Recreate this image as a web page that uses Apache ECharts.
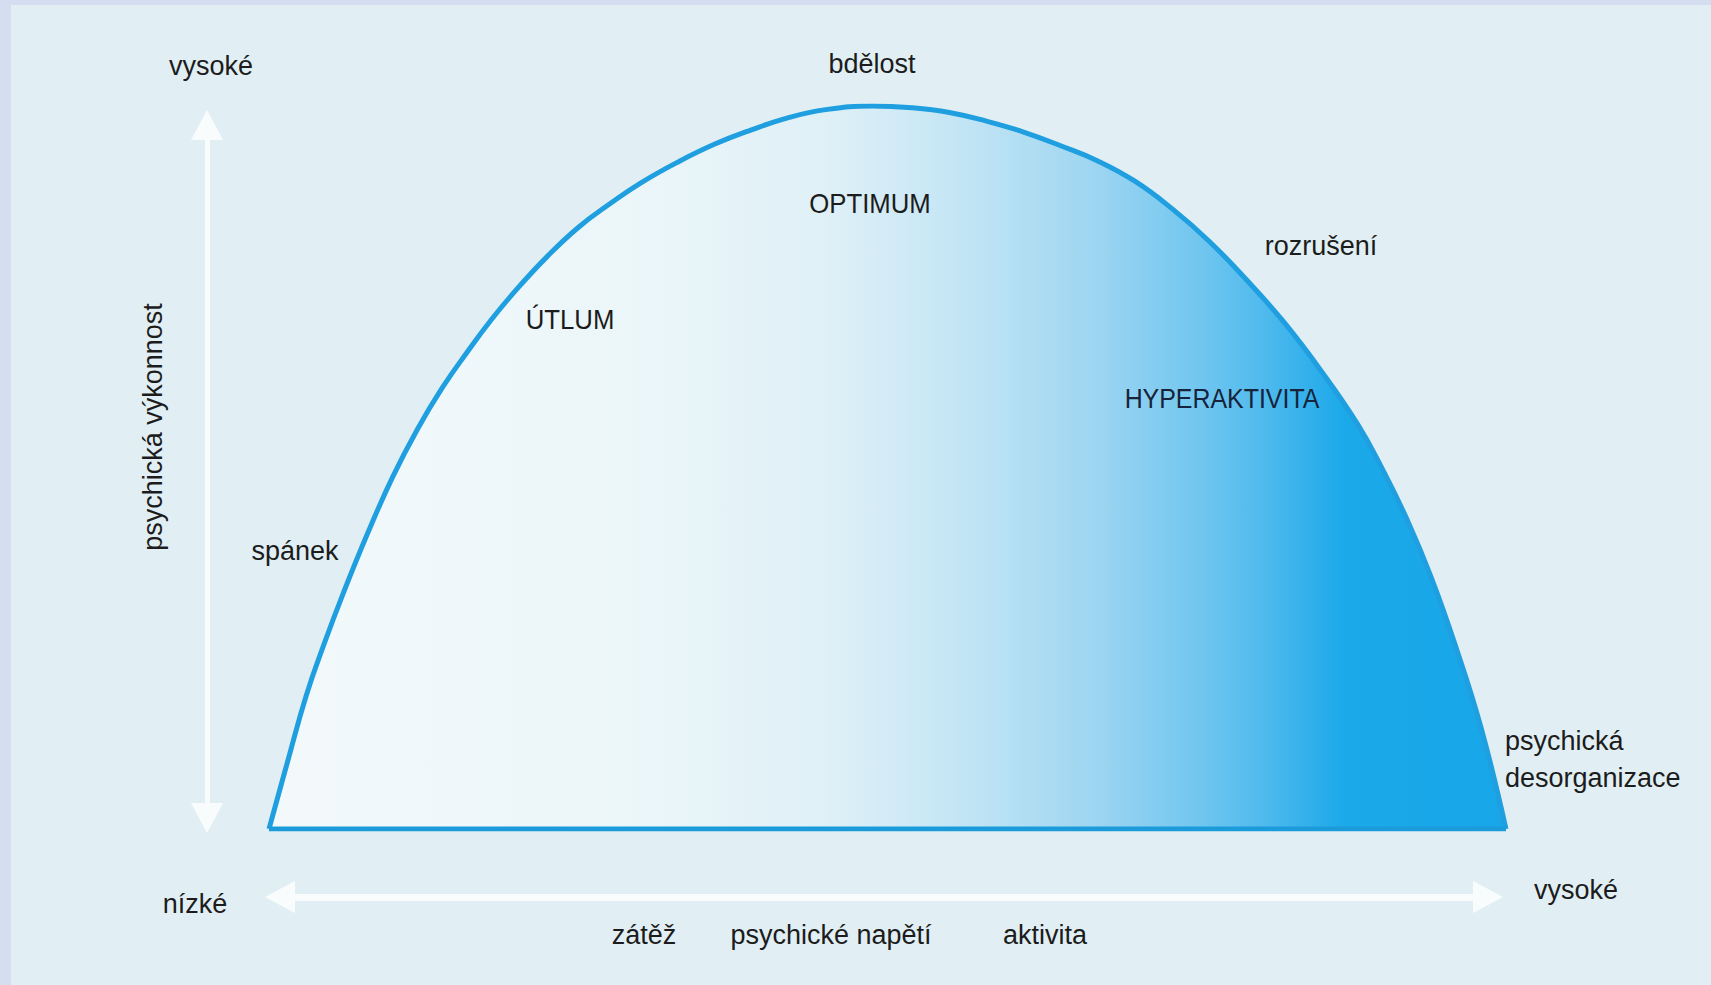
<!DOCTYPE html>
<html><head><meta charset="utf-8">
<script src="https://cdn.jsdelivr.net/npm/echarts@6/dist/echarts.min.js"></script>
<style>html,body{margin:0;padding:0;background:#d5def1;overflow:hidden} #c{width:1711px;height:985px;}</style>
</head><body><div id="c"></div>
<script>
// Curve: x = psychické napětí (0..100), y = psychická výkonnost (0..100)
const curveX = [0, 1.5, 3, 4.5, 6, 8, 10, 12, 14, 16, 18, 20, 22.5, 25, 27.5, 30, 33, 36, 39, 42, 45, 48.75,
                52, 55, 58, 61, 64, 67, 70, 73, 76, 79, 82, 85, 88, 90, 92, 94, 96, 98, 100];
const curveY = [0, 9.3, 18.4, 25.8, 32.6, 41.0, 48.7, 55.3, 61.0, 65.9, 70.5, 74.6, 79.2, 83.2, 86.4, 89.3, 92.2, 94.7, 96.7, 98.4, 99.5, 100,
                99.75, 99.1, 97.9, 96.4, 94.5, 92.4, 89.6, 85.8, 81.3, 76.0, 70.2, 63.5, 56.0, 49.8, 42.8, 34.6, 24.9, 13.9, 0];
const baseX = [0, 100];
const baseY = [0, 0];
const axisEnds = ['nízké', 'vysoké'];
const xAxisWords = ['zátěž', 'psychické napětí', 'aktivita'];
const yAxisName = 'psychická výkonnost';
const zoneLabels = ['spánek', 'ÚTLUM', 'bdělost', 'OPTIMUM', 'rozrušení', 'HYPERAKTIVITA', 'psychická', 'desorganizace'];

const FONT = '"Liberation Sans", Arial, sans-serif';
function txt(text, x, y, o) {
  o = o || {};
  return {
    type: 'text', x: x, y: y, z: 20, rotation: o.rotation || 0,
    scaleX: o.scaleX || 1, scaleY: o.scaleY || 1, silent: true,
    style: { text: text, fill: o.fill || '#1c1c1c', font: (o.size || 27) + 'px ' + FONT,
      align: o.align || 'center', verticalAlign: 'middle' }
  };
}

const chart = echarts.init(document.getElementById('c'), null, { renderer: 'svg', width: 1711, height: 985 });
const curve = curveX.map((x, i) => [x, curveY[i]]);
const base = baseX.map((x, i) => [x, baseY[i]]);

const hidden = { axisLine: { show: false }, axisTick: { show: false }, axisLabel: { show: false }, splitLine: { show: false } };
const arrowAxis = (w, extra) => Object.assign({
  type: 'value', min: 0, max: 100, gridIndex: 1,
  axisLine: { show: true, onZero: false, symbol: ['triangle', 'triangle'], symbolSize: [32, 30],
    lineStyle: { color: '#f9fcfd', width: w } },
  axisTick: { show: false }, axisLabel: { show: false }, splitLine: { show: false }
}, extra);

chart.setOption({
  backgroundColor: '#d5def1',
  animation: false,
  grid: [
    { left: 269, top: 106, width: 1237, height: 723, containLabel: false },
    // frame that carries the two white arrows (psychická výkonnost / psychické napětí)
    { left: 280, top: 125, width: 1208, height: 693, containLabel: false }
  ],
  xAxis: [
    Object.assign({ type: 'value', min: 0, max: 100, gridIndex: 0 }, hidden),
    arrowAxis(7, { position: 'bottom', offset: 79 })
  ],
  yAxis: [
    Object.assign({ type: 'value', min: 0, max: 100, gridIndex: 0 }, hidden),
    arrowAxis(5, { position: 'left', offset: 73 })
  ],
  graphic: [
    { type: 'rect', z: -10, silent: true, shape: { x: 11, y: 5, width: 1700, height: 980 }, style: { fill: '#e1eff4' } },
    txt(axisEnds[1], 211, 66),
    txt(axisEnds[0], 195, 904),
    txt(axisEnds[1], 1576, 890),
    txt(xAxisWords[0], 644, 935),
    txt(xAxisWords[1], 831, 935),
    txt(xAxisWords[2], 1045, 935),
    txt(yAxisName, 153, 427, { rotation: Math.PI / 2 }),
    txt(zoneLabels[0], 295, 551),
    txt(zoneLabels[1], 570, 320, { size: 28, scaleX: 0.92 }),
    txt(zoneLabels[2], 872, 64),
    txt(zoneLabels[3], 870, 204, { size: 28, scaleX: 0.92 }),
    txt(zoneLabels[4], 1321, 246),
    txt(zoneLabels[5], 1222, 398, { size: 28, scaleX: 0.89, fill: '#16233a' }),
    txt(zoneLabels[6], 1505, 741, { align: 'left' }),
    txt(zoneLabels[7], 1505, 778, { align: 'left' })
  ],
  series: [
    {
      type: 'line', data: curve, smooth: 0.45, symbol: 'none', z: 3, xAxisIndex: 0, yAxisIndex: 0,
      lineStyle: { color: '#1f9fdf', width: 5 },
      areaStyle: {
        opacity: 1,
        color: { type: 'linear', x: 0, y: 0, x2: 1, y2: 0, colorStops: [
          { offset: 0, color: '#f3f9fb' },
          { offset: 0.3, color: '#ebf6f9' },
          { offset: 0.45, color: '#dff0f7' },
          { offset: 0.51, color: '#d1eaf6' },
          { offset: 0.576, color: '#bde3f4' },
          { offset: 0.67, color: '#9dd5f1' },
          { offset: 0.753, color: '#70c6ef' },
          { offset: 0.80, color: '#52bbed' },
          { offset: 0.84, color: '#33b0eb' },
          { offset: 0.87, color: '#1ba9e9' },
          { offset: 1, color: '#17a6e8' }
        ] }
      }
    },
    {
      type: 'line', data: base, symbol: 'none', z: 4, xAxisIndex: 0, yAxisIndex: 0,
      lineStyle: { color: '#1c9bdb', width: 5 }
    }
  ]
});
</script>
</body></html>
